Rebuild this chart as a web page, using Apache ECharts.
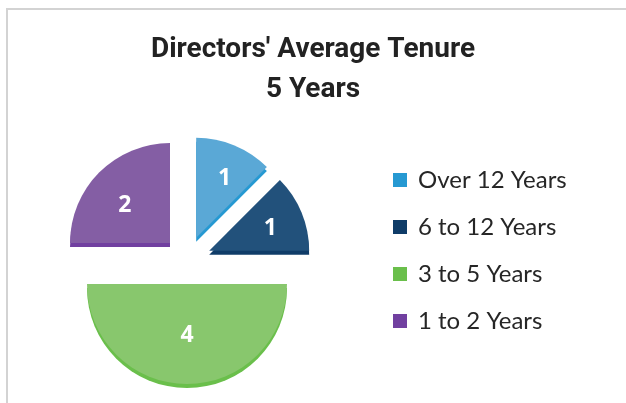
<!DOCTYPE html>
<html>
<head>
<meta charset="utf-8">
<script src="https://cdn.jsdelivr.net/npm/echarts@6/dist/echarts.min.js"></script>
<style>
  html, body { margin: 0; padding: 0; background: #fff; }
  #chart { width: 626px; height: 403px; }
</style>
</head>
<body>
<div id="chart"></div>
<script>
const categories = ['Over 12 Years', '6 to 12 Years', '3 to 5 Years', '1 to 2 Years'];
const directors = [1, 1, 4, 2];

// top face colours and the darker side/legend colours
const topColors = ['#5aa8d6', '#22517b', '#88c76d', '#845ea4'];
const sideColors = ['#2699d2', '#0f3c68', '#6abf4b', '#7140a0'];
// small nudges so the value labels sit where Excel puts them [dx, dy]
const labelNudge = [[4, 0], [2, 2], [0, -13], [0, 8]];

const chart = echarts.init(document.getElementById('chart'));

const center = [187, 260];
const radius = 100;
const explode = 24;

const sliceData = (colors) =>
  categories.map((name, i) => ({
    name,
    value: directors[i],
    selected: true,
    itemStyle: { color: colors[i] },
  }));

const option = {
  animation: false,
  title: {
    text: "Directors' Average Tenure\n5 Years",
    left: 'center',
    top: 25,
    textStyle: {
      fontFamily: 'Roboto, sans-serif',
      fontWeight: 'bold',
      fontSize: 28,
      lineHeight: 40,
      color: '#222',
    },
  },
  legend: {
    orient: 'vertical',
    left: 393,
    top: 168,
    padding: 0,
    itemWidth: 14,
    itemHeight: 14,
    itemGap: 23,
    icon: 'rect',
    selectedMode: false,
    data: categories.map((name, i) => ({ name, itemStyle: { color: sideColors[i] } })),
    textStyle: {
      fontFamily: 'Lato, sans-serif',
      fontSize: 24,
      color: '#262626',
      padding: [0, 0, 0, 6],
    },
  },
  graphic: [
    {
      type: 'polyline',
      shape: { points: [[7, 403], [7, 9], [626, 9]] },
      style: { stroke: '#d3d3d3', lineWidth: 2, fill: null },
      silent: true,
    },
  ],
  series: [
    {
      // side band, shifted down
      type: 'pie',
      center: [center[0], center[1] + 4],
      radius: [0, radius],
      startAngle: 90,
      selectedMode: 'multiple',
      selectedOffset: explode,
      silent: true,
      label: { show: false },
      labelLine: { show: false },
      data: sliceData(sideColors),
      z: 1,
    },
    {
      type: 'pie',
      center: center,
      radius: [0, radius],
      startAngle: 90,
      selectedMode: 'multiple',
      selectedOffset: explode,
      silent: true,
      label: { show: false },
      labelLine: { show: false },
      data: sliceData(topColors),
      z: 2,
    },
    {
      // labels only
      type: 'pie',
      center: center,
      radius: [22, radius],
      startAngle: 90,
      selectedMode: 'multiple',
      selectedOffset: explode,
      silent: true,
      itemStyle: { color: 'transparent' },
      label: {
        show: true,
        position: 'inside',
        formatter: '{c}',
        color: '#fff',
        fontFamily: 'Open Sans, sans-serif',
        fontWeight: 'bold',
        fontSize: 23,
      },
      labelLine: { show: false },
      labelLayout: (p) => ({ dx: labelNudge[p.dataIndex][0], dy: labelNudge[p.dataIndex][1] }),
      data: categories.map((name, i) => ({ name, value: directors[i], selected: true })),
      z: 3,
    },
  ],
};

chart.setOption(option);
</script>
</body>
</html>
